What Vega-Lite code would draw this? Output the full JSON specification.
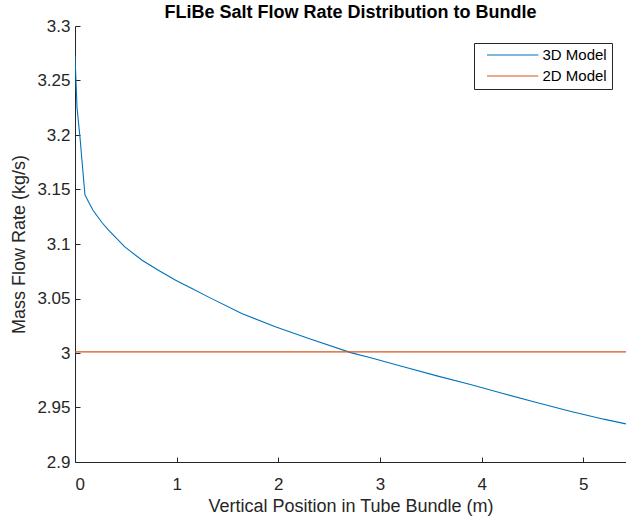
{
  "$schema": "https://vega.github.io/schema/vega-lite/v6.json",
  "width": 551,
  "height": 436,
  "autosize": {"type": "none"},
  "padding": {"left": 75, "top": 26, "right": 0, "bottom": 59},
  "background": "white",
  "title": {
    "text": "FLiBe Salt Flow Rate Distribution to Bundle",
    "font": "Liberation Sans",
    "fontSize": 18,
    "fontWeight": "bold",
    "color": "#000000",
    "anchor": "middle",
    "offset": -5
  },
  "data": {
    "values": [
      {"model": "3D Model", "pos": 0.0, "flow": 3.273},
      {"model": "3D Model", "pos": 0.02, "flow": 3.225},
      {"model": "3D Model", "pos": 0.05, "flow": 3.197},
      {"model": "3D Model", "pos": 0.07, "flow": 3.175},
      {"model": "3D Model", "pos": 0.098, "flow": 3.145},
      {"model": "3D Model", "pos": 0.134, "flow": 3.1386},
      {"model": "3D Model", "pos": 0.177, "flow": 3.131},
      {"model": "3D Model", "pos": 0.265, "flow": 3.1197},
      {"model": "3D Model", "pos": 0.33, "flow": 3.1127},
      {"model": "3D Model", "pos": 0.49, "flow": 3.0973},
      {"model": "3D Model", "pos": 0.66, "flow": 3.0851},
      {"model": "3D Model", "pos": 0.82, "flow": 3.076},
      {"model": "3D Model", "pos": 0.99, "flow": 3.0668},
      {"model": "3D Model", "pos": 1.15, "flow": 3.0592},
      {"model": "3D Model", "pos": 1.31, "flow": 3.0515},
      {"model": "3D Model", "pos": 1.64, "flow": 3.0362},
      {"model": "3D Model", "pos": 1.97, "flow": 3.024},
      {"model": "3D Model", "pos": 2.3, "flow": 3.0133},
      {"model": "3D Model", "pos": 2.72, "flow": 3.0001},
      {"model": "3D Model", "pos": 2.9, "flow": 2.9959},
      {"model": "3D Model", "pos": 3.23, "flow": 2.9873},
      {"model": "3D Model", "pos": 3.56, "flow": 2.979},
      {"model": "3D Model", "pos": 3.89, "flow": 2.9711},
      {"model": "3D Model", "pos": 4.21, "flow": 2.9628},
      {"model": "3D Model", "pos": 4.54, "flow": 2.9546},
      {"model": "3D Model", "pos": 4.87, "flow": 2.9466},
      {"model": "3D Model", "pos": 5.2, "flow": 2.9393},
      {"model": "3D Model", "pos": 5.42, "flow": 2.935},
      {"model": "2D Model", "pos": 0.0, "flow": 3.001},
      {"model": "2D Model", "pos": 5.42, "flow": 3.001}
    ]
  },
  "mark": {"type": "line", "strokeWidth": 1.1, "clip": true},
  "encoding": {
    "x": {
      "field": "pos",
      "type": "quantitative",
      "scale": {"domain": [0, 5.42], "nice": false, "zero": false},
      "axis": {
        "title": "Vertical Position in Tube Bundle (m)",
        "values": [0, 1, 2, 3, 4, 5],
        "format": "d",
        "labelPadding": 19,
        "titlePadding": 5
      }
    },
    "y": {
      "field": "flow",
      "type": "quantitative",
      "scale": {"domain": [2.9, 3.3], "nice": false, "zero": false},
      "axis": {
        "title": "Mass Flow Rate (kg/s)",
        "values": [2.9, 2.95, 3.0, 3.05, 3.1, 3.15, 3.2, 3.25, 3.3],
        "format": ".2~f",
        "labelPadding": 10,
        "titlePadding": 8
      }
    },
    "color": {
      "field": "model",
      "type": "nominal",
      "scale": {"domain": ["3D Model", "2D Model"], "range": ["#0072BD", "#D95319"]},
      "legend": {
        "title": null,
        "orient": "none",
        "legendX": 399,
        "legendY": 17,
        "symbolType": "M0,0H8",
        "symbolSize": 165,
        "symbolStrokeWidth": 1.1,
        "symbolOffset": 1,
        "labelFont": "Liberation Sans",
        "labelFontSize": 15,
        "labelColor": "#000000",
        "labelOffset": 48,
        "rowPadding": 5,
        "padding": 4.5,
        "strokeColor": "#262626",
        "fillColor": "white",
        "cornerRadius": 0
      }
    }
  },
  "config": {
    "view": {"stroke": null},
    "axis": {
      "grid": false,
      "domainColor": "#262626",
      "domainWidth": 1,
      "tickColor": "#262626",
      "tickSize": -5,
      "tickWidth": 1,
      "labelFont": "Liberation Sans",
      "labelFontSize": 17,
      "labelColor": "#262626",
      "titleFont": "Liberation Sans",
      "titleFontSize": 18,
      "titleFontWeight": "normal",
      "titleColor": "#262626"
    }
  }
}
